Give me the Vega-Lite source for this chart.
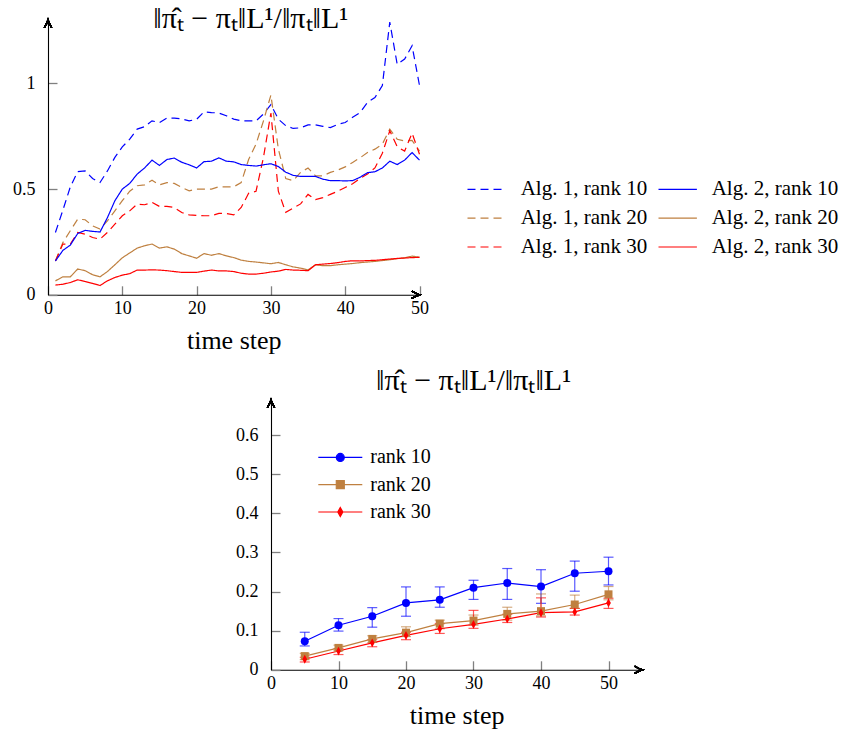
{
  "$schema": "https://vega.github.io/schema/vega-lite/v6.json",
  "background": "white",
  "padding": {"left": 12, "top": 4, "right": 0, "bottom": 0},
  "config": {
    "view": {"stroke": null},
    "font": "Liberation Serif",
    "axis": {
      "grid": false,
      "domainColor": "black",
      "domainWidth": 1.1,
      "tickColor": "#808080",
      "tickWidth": 1.3,
      "tickSize": -9,
      "labelFlush": false,
      "labelFont": "Liberation Serif",
      "labelFontSize": 18,
      "labelColor": "black",
      "titleFont": "Liberation Serif",
      "titleFontSize": 26,
      "titleFontWeight": "normal",
      "titleColor": "black"
    },
    "axisX": {"labelPadding": 14, "titlePadding": 10},
    "axisY": {"labelPadding": 22},
    "title": {"font": "Liberation Serif", "fontSize": 30, "fontWeight": "normal", "color": "black"}
  },
  "resolve": {
    "scale": {"color": "independent", "strokeDash": "independent", "shape": "independent", "fill": "independent", "stroke": "independent"},
    "legend": {"color": "independent", "strokeDash": "independent", "shape": "independent", "fill": "independent", "stroke": "independent"}
  },
  "spacing": 12,
  "vconcat": [
    {
      "width": 371.5,
      "height": 274.8,
      "title": {"text": "‖π̂ₜ − πₜ‖L¹/‖πₜ‖L¹", "dx": 17, "dy": 38, "offset": -3, "baseline": "alphabetic"},
      "data": {
        "values": [
          {"t": 1, "a1r10": 0.295, "a1r20": 0.16, "a1r30": 0.16, "a2r10": 0.16, "a2r20": 0.066, "a2r30": 0.046},
          {"t": 2, "a1r10": 0.4, "a1r20": 0.247, "a1r30": 0.24, "a2r10": 0.21, "a2r20": 0.085, "a2r30": 0.05},
          {"t": 3, "a1r10": 0.51, "a1r20": 0.303, "a1r30": 0.24, "a2r10": 0.235, "a2r20": 0.085, "a2r30": 0.058},
          {"t": 4, "a1r10": 0.583, "a1r20": 0.358, "a1r30": 0.295, "a2r10": 0.29, "a2r20": 0.122, "a2r30": 0.071},
          {"t": 5, "a1r10": 0.586, "a1r20": 0.355, "a1r30": 0.287, "a2r10": 0.305, "a2r20": 0.114, "a2r30": 0.063},
          {"t": 6, "a1r10": 0.55, "a1r20": 0.326, "a1r30": 0.271, "a2r10": 0.3, "a2r20": 0.095, "a2r30": 0.054},
          {"t": 7, "a1r10": 0.531, "a1r20": 0.311, "a1r30": 0.263, "a2r10": 0.297, "a2r20": 0.085, "a2r30": 0.044},
          {"t": 8, "a1r10": 0.586, "a1r20": 0.35, "a1r30": 0.295, "a2r10": 0.365, "a2r20": 0.11, "a2r30": 0.066},
          {"t": 9, "a1r10": 0.65, "a1r20": 0.397, "a1r30": 0.334, "a2r10": 0.445, "a2r20": 0.142, "a2r30": 0.082},
          {"t": 10, "a1r10": 0.7, "a1r20": 0.445, "a1r30": 0.374, "a2r10": 0.5, "a2r20": 0.175, "a2r30": 0.093},
          {"t": 11, "a1r10": 0.736, "a1r20": 0.49, "a1r30": 0.397, "a2r10": 0.527, "a2r20": 0.198, "a2r30": 0.1},
          {"t": 12, "a1r10": 0.784, "a1r20": 0.516, "a1r30": 0.429, "a2r10": 0.571, "a2r20": 0.221, "a2r30": 0.117},
          {"t": 13, "a1r10": 0.795, "a1r20": 0.52, "a1r30": 0.426, "a2r10": 0.6, "a2r20": 0.232, "a2r30": 0.117},
          {"t": 14, "a1r10": 0.823, "a1r20": 0.542, "a1r30": 0.437, "a2r10": 0.637, "a2r20": 0.24, "a2r30": 0.118},
          {"t": 15, "a1r10": 0.815, "a1r20": 0.52, "a1r30": 0.418, "a2r10": 0.612, "a2r20": 0.221, "a2r30": 0.117},
          {"t": 16, "a1r10": 0.836, "a1r20": 0.531, "a1r30": 0.418, "a2r10": 0.64, "a2r20": 0.227, "a2r30": 0.114},
          {"t": 17, "a1r10": 0.836, "a1r20": 0.527, "a1r30": 0.413, "a2r10": 0.647, "a2r20": 0.216, "a2r30": 0.11},
          {"t": 18, "a1r10": 0.832, "a1r20": 0.508, "a1r30": 0.389, "a2r10": 0.627, "a2r20": 0.195, "a2r30": 0.106},
          {"t": 19, "a1r10": 0.823, "a1r20": 0.492, "a1r30": 0.378, "a2r10": 0.615, "a2r20": 0.184, "a2r30": 0.106},
          {"t": 20, "a1r10": 0.83, "a1r20": 0.5, "a1r30": 0.376, "a2r10": 0.6, "a2r20": 0.173, "a2r30": 0.106},
          {"t": 21, "a1r10": 0.866, "a1r20": 0.5, "a1r30": 0.374, "a2r10": 0.63, "a2r20": 0.195, "a2r30": 0.112},
          {"t": 22, "a1r10": 0.862, "a1r20": 0.5, "a1r30": 0.374, "a2r10": 0.632, "a2r20": 0.187, "a2r30": 0.117},
          {"t": 23, "a1r10": 0.86, "a1r20": 0.511, "a1r30": 0.385, "a2r10": 0.648, "a2r20": 0.195, "a2r30": 0.113},
          {"t": 24, "a1r10": 0.847, "a1r20": 0.511, "a1r30": 0.385, "a2r10": 0.632, "a2r20": 0.184, "a2r30": 0.113},
          {"t": 25, "a1r10": 0.831, "a1r20": 0.511, "a1r30": 0.378, "a2r10": 0.629, "a2r20": 0.176, "a2r30": 0.11},
          {"t": 26, "a1r10": 0.823, "a1r20": 0.531, "a1r30": 0.413, "a2r10": 0.616, "a2r20": 0.164, "a2r30": 0.102},
          {"t": 27, "a1r10": 0.823, "a1r20": 0.64, "a1r30": 0.48, "a2r10": 0.612, "a2r20": 0.158, "a2r30": 0.098},
          {"t": 28, "a1r10": 0.823, "a1r20": 0.713, "a1r30": 0.49, "a2r10": 0.609, "a2r20": 0.155, "a2r30": 0.098},
          {"t": 29, "a1r10": 0.855, "a1r20": 0.823, "a1r30": 0.65, "a2r10": 0.615, "a2r20": 0.151, "a2r30": 0.102},
          {"t": 30, "a1r10": 0.9, "a1r20": 0.945, "a1r30": 0.86, "a2r10": 0.62, "a2r20": 0.147, "a2r30": 0.108},
          {"t": 31, "a1r10": 0.831, "a1r20": 0.69, "a1r30": 0.49, "a2r10": 0.607, "a2r20": 0.153, "a2r30": 0.112},
          {"t": 32, "a1r10": 0.8, "a1r20": 0.55, "a1r30": 0.39, "a2r10": 0.58, "a2r20": 0.142, "a2r30": 0.12},
          {"t": 33, "a1r10": 0.787, "a1r20": 0.54, "a1r30": 0.41, "a2r10": 0.565, "a2r20": 0.132, "a2r30": 0.117},
          {"t": 34, "a1r10": 0.79, "a1r20": 0.579, "a1r30": 0.43, "a2r10": 0.56, "a2r20": 0.126, "a2r30": 0.116},
          {"t": 35, "a1r10": 0.804, "a1r20": 0.6, "a1r30": 0.475, "a2r10": 0.56, "a2r20": 0.118, "a2r30": 0.114},
          {"t": 36, "a1r10": 0.804, "a1r20": 0.563, "a1r30": 0.45, "a2r10": 0.56, "a2r20": 0.142, "a2r30": 0.142},
          {"t": 37, "a1r10": 0.797, "a1r20": 0.563, "a1r30": 0.46, "a2r10": 0.547, "a2r20": 0.138, "a2r30": 0.145},
          {"t": 38, "a1r10": 0.791, "a1r20": 0.579, "a1r30": 0.475, "a2r10": 0.54, "a2r20": 0.138, "a2r30": 0.148},
          {"t": 39, "a1r10": 0.806, "a1r20": 0.59, "a1r30": 0.49, "a2r10": 0.54, "a2r20": 0.142, "a2r30": 0.152},
          {"t": 40, "a1r10": 0.815, "a1r20": 0.605, "a1r30": 0.508, "a2r10": 0.539, "a2r20": 0.145, "a2r30": 0.158},
          {"t": 41, "a1r10": 0.84, "a1r20": 0.626, "a1r30": 0.525, "a2r10": 0.54, "a2r20": 0.148, "a2r30": 0.161},
          {"t": 42, "a1r10": 0.862, "a1r20": 0.648, "a1r30": 0.55, "a2r10": 0.556, "a2r20": 0.152, "a2r30": 0.16},
          {"t": 43, "a1r10": 0.91, "a1r20": 0.673, "a1r30": 0.571, "a2r10": 0.578, "a2r20": 0.155, "a2r30": 0.162},
          {"t": 44, "a1r10": 0.933, "a1r20": 0.689, "a1r30": 0.6, "a2r10": 0.582, "a2r20": 0.158, "a2r30": 0.163},
          {"t": 45, "a1r10": 0.99, "a1r20": 0.713, "a1r30": 0.67, "a2r10": 0.6, "a2r20": 0.162, "a2r30": 0.166},
          {"t": 46, "a1r10": 1.29, "a1r20": 0.784, "a1r30": 0.776, "a2r10": 0.632, "a2r20": 0.166, "a2r30": 0.169},
          {"t": 47, "a1r10": 1.09, "a1r20": 0.736, "a1r30": 0.7, "a2r10": 0.616, "a2r20": 0.171, "a2r30": 0.172},
          {"t": 48, "a1r10": 1.115, "a1r20": 0.728, "a1r30": 0.68, "a2r10": 0.637, "a2r20": 0.175, "a2r30": 0.174},
          {"t": 49, "a1r10": 1.178, "a1r20": 0.73, "a1r30": 0.765, "a2r10": 0.673, "a2r20": 0.183, "a2r30": 0.176},
          {"t": 50, "a1r10": 0.99, "a1r20": 0.68, "a1r30": 0.665, "a2r10": 0.637, "a2r20": 0.178, "a2r30": 0.177}
        ]
      },
      "layer": [
        {
          "transform": [{"fold": ["a1r10", "a1r20", "a1r30", "a2r10", "a2r20", "a2r30"], "as": ["series", "v"]}],
          "mark": {"type": "line", "strokeWidth": 1.2},
          "encoding": {
            "x": {"field": "t", "type": "quantitative", "scale": {"domain": [0, 50], "nice": false}, "axis": {"values": [0, 10, 20, 30, 40, 50], "title": "time step"}},
            "y": {"field": "v", "type": "quantitative", "scale": {"domain": [0, 1.3], "nice": false}, "axis": {"values": [0, 0.5, 1], "format": "~g", "title": null}},
            "color": {
              "field": "series", "type": "nominal",
              "scale": {"domain": ["a1r10", "a1r20", "a1r30", "a2r10", "a2r20", "a2r30"], "range": ["#0000ff", "#bf8040", "#ff0000", "#0000ff", "#bf8040", "#ff0000"]},
              "legend": {"title": null, "orient": "none", "legendX": 425.7, "legendY": 156.4, "columns": 2, "padding": 0, "symbolType": "M-1.6,0H1.6", "symbolSize": 576, "symbolStrokeWidth": 1.2, "labelFont": "Liberation Serif", "labelFontSize": 21, "labelColor": "black", "labelOffset": 21, "labelLimit": 300, "rowPadding": 5.8, "columnPadding": 8, "labelExpr": "'Alg. ' + substring(datum.value, 1, 2) + ', rank ' + substring(datum.value, 3)"}
            },
            "strokeDash": {
              "field": "series", "type": "nominal",
              "scale": {"domain": ["a1r10", "a1r20", "a1r30", "a2r10", "a2r20", "a2r30"], "range": [[8, 5], [8, 5], [8, 5], [1, 0], [1, 0], [1, 0]]},
              "legend": {"title": null, "orient": "none", "legendX": 425.7, "legendY": 156.4, "columns": 2, "padding": 0, "symbolType": "M-1.6,0H1.6", "symbolSize": 576, "symbolStrokeWidth": 1.2, "labelFont": "Liberation Serif", "labelFontSize": 21, "labelColor": "black", "labelOffset": 21, "labelLimit": 300, "rowPadding": 5.8, "columnPadding": 8, "labelExpr": "'Alg. ' + substring(datum.value, 1, 2) + ', rank ' + substring(datum.value, 3)"}
            }
          }
        },
        {
          "mark": {"type": "point", "shape": "M-0.9,1.9Q-0.2,0.7,0,0Q0.2,0.7,0.9,1.9", "filled": false, "color": "black", "strokeWidth": 1.3, "size": 64, "opacity": 1},
          "encoding": {"x": {"datum": 0}, "y": {"datum": 1.3}}
        },
        {
          "mark": {"type": "point", "shape": "M-1.9,-0.9Q-0.7,-0.2,0,0Q-0.7,0.2,-1.9,0.9", "filled": false, "color": "black", "strokeWidth": 1.3, "size": 64, "opacity": 1},
          "encoding": {"x": {"datum": 50}, "y": {"datum": 0}}
        }
      ]
    },
    {
      "spacing": 0,
      "resolve": {
        "scale": {"color": "independent", "shape": "independent", "fill": "independent", "stroke": "independent"},
        "legend": {"color": "independent", "shape": "independent", "fill": "independent", "stroke": "independent"}
      },
      "hconcat": [
        {
          "width": 186.4,
          "height": 10,
          "data": {"values": []},
          "mark": {"type": "point", "opacity": 0}
        },
        {
          "width": 371.25,
          "height": 269.8,
          "title": {"text": "‖π̂ₜ − πₜ‖L¹/‖πₜ‖L¹", "dx": 17, "dy": 20, "offset": -3, "baseline": "alphabetic"},
          "data": {
            "values": [
              {"t": 5, "rank": "rank 10", "v": 0.073, "lo": 0.061, "hi": 0.096},
              {"t": 10, "rank": "rank 10", "v": 0.114, "lo": 0.099, "hi": 0.131},
              {"t": 15, "rank": "rank 10", "v": 0.137, "lo": 0.109, "hi": 0.159},
              {"t": 20, "rank": "rank 10", "v": 0.171, "lo": 0.137, "hi": 0.212},
              {"t": 25, "rank": "rank 10", "v": 0.179, "lo": 0.16, "hi": 0.212},
              {"t": 30, "rank": "rank 10", "v": 0.21, "lo": 0.18, "hi": 0.229},
              {"t": 35, "rank": "rank 10", "v": 0.222, "lo": 0.18, "hi": 0.259},
              {"t": 40, "rank": "rank 10", "v": 0.213, "lo": 0.17, "hi": 0.256},
              {"t": 45, "rank": "rank 10", "v": 0.247, "lo": 0.201, "hi": 0.278},
              {"t": 50, "rank": "rank 10", "v": 0.252, "lo": 0.217, "hi": 0.288},
              {"t": 5, "rank": "rank 20", "v": 0.035, "lo": 0.026, "hi": 0.042},
              {"t": 10, "rank": "rank 20", "v": 0.056, "lo": 0.049, "hi": 0.063},
              {"t": 15, "rank": "rank 20", "v": 0.079, "lo": 0.07, "hi": 0.087},
              {"t": 20, "rank": "rank 20", "v": 0.095, "lo": 0.085, "hi": 0.11},
              {"t": 25, "rank": "rank 20", "v": 0.118, "lo": 0.105, "hi": 0.127},
              {"t": 30, "rank": "rank 20", "v": 0.126, "lo": 0.114, "hi": 0.14},
              {"t": 35, "rank": "rank 20", "v": 0.143, "lo": 0.127, "hi": 0.16},
              {"t": 40, "rank": "rank 20", "v": 0.15, "lo": 0.138, "hi": 0.194},
              {"t": 45, "rank": "rank 20", "v": 0.167, "lo": 0.157, "hi": 0.191},
              {"t": 50, "rank": "rank 20", "v": 0.193, "lo": 0.179, "hi": 0.213},
              {"t": 5, "rank": "rank 30", "v": 0.027, "lo": 0.02, "hi": 0.032},
              {"t": 10, "rank": "rank 30", "v": 0.048, "lo": 0.039, "hi": 0.054},
              {"t": 15, "rank": "rank 30", "v": 0.069, "lo": 0.059, "hi": 0.077},
              {"t": 20, "rank": "rank 30", "v": 0.088, "lo": 0.077, "hi": 0.096},
              {"t": 25, "rank": "rank 30", "v": 0.105, "lo": 0.093, "hi": 0.118},
              {"t": 30, "rank": "rank 30", "v": 0.116, "lo": 0.106, "hi": 0.152},
              {"t": 35, "rank": "rank 30", "v": 0.13, "lo": 0.121, "hi": 0.142},
              {"t": 40, "rank": "rank 30", "v": 0.146, "lo": 0.135, "hi": 0.184},
              {"t": 45, "rank": "rank 30", "v": 0.148, "lo": 0.14, "hi": 0.157},
              {"t": 50, "rank": "rank 30", "v": 0.171, "lo": 0.157, "hi": 0.183}
            ]
          },
          "encoding": {
            "x": {"field": "t", "type": "quantitative", "scale": {"domain": [0, 55], "nice": false}, "axis": {"values": [0, 10, 20, 30, 40, 50], "title": "time step"}}
          },
          "resolve": {
            "scale": {"shape": "independent", "fill": "independent", "stroke": "independent"},
            "legend": {"shape": "independent", "fill": "independent", "stroke": "independent"}
          },
          "layer": [
            {
              "mark": {"type": "errorbar", "ticks": {"size": 10, "thickness": 1.2, "opacity": 0.65}, "rule": {"strokeWidth": 1.2, "opacity": 0.65}},
              "encoding": {
                "y": {"field": "lo", "type": "quantitative", "scale": {"domain": [0, 0.69], "nice": false}, "axis": {"values": [0, 0.1, 0.2, 0.3, 0.4, 0.5, 0.6], "format": "~g", "title": null}},
                "y2": {"field": "hi"},
                "color": {"field": "rank", "type": "nominal", "scale": {"domain": ["rank 10", "rank 20", "rank 30"], "range": ["#0000ff", "#bf8040", "#ff0000"]}, "legend": null}
              }
            },
            {
              "mark": {"type": "line", "strokeWidth": 1.2},
              "encoding": {
                "y": {"field": "v", "type": "quantitative"},
                "color": {"field": "rank", "type": "nominal", "scale": {"domain": ["rank 10", "rank 20", "rank 30"], "range": ["#0000ff", "#bf8040", "#ff0000"]}, "legend": null}
              }
            },
            {
              "mark": {"type": "point", "filled": true, "size": 64, "opacity": 1},
              "encoding": {
                "y": {"field": "v", "type": "quantitative"},
                "color": {"field": "rank", "type": "nominal", "scale": {"domain": ["rank 10", "rank 20", "rank 30"], "range": ["#0000ff", "#bf8040", "#ff0000"]}, "legend": null},
                "shape": {"field": "rank", "type": "nominal", "scale": {"domain": ["rank 10", "rank 20", "rank 30"], "range": ["circle", "square", "M0,-1.1L0.6,0L0,1.1L-0.6,0Z"]}, "legend": null}
              }
            },
            {
              "mark": {"type": "point", "opacity": 0, "strokeWidth": 1.2},
              "encoding": {
                "y": {"field": "v", "type": "quantitative"},
                "fill": {
                  "field": "rank", "type": "nominal",
                  "scale": {"domain": ["rank 10", "rank 20", "rank 30"], "range": ["#0000ff", "#bf8040", "#ff0000"]},
                  "legend": {"title": null, "orient": "none", "legendX": 56.3, "legendY": 44.4, "padding": 0, "symbolSize": 576, "symbolOpacity": 1, "symbolStrokeWidth": 1.2, "labelFont": "Liberation Serif", "labelFontSize": 20, "labelColor": "black", "labelOffset": 17, "rowPadding": 4.3}
                },
                "stroke": {
                  "field": "rank", "type": "nominal",
                  "scale": {"domain": ["rank 10", "rank 20", "rank 30"], "range": ["#0000ff", "#bf8040", "#ff0000"]},
                  "legend": {"title": null, "orient": "none", "legendX": 56.3, "legendY": 44.4, "padding": 0, "symbolSize": 576, "symbolOpacity": 1, "symbolStrokeWidth": 1.2, "labelFont": "Liberation Serif", "labelFontSize": 20, "labelColor": "black", "labelOffset": 17, "rowPadding": 4.3}
                },
                "shape": {
                  "field": "rank", "type": "nominal",
                  "scale": {"domain": ["rank 10", "rank 20", "rank 30"], "range": ["M-1.833,0H1.833M0.333,0A0.333,0.333,0,1,1,-0.333,0A0.333,0.333,0,1,1,0.333,0Z", "M-1.833,0H1.833M-0.333,-0.333H0.333V0.333H-0.333Z", "M-1.833,0H1.833M0,-0.375L0.21,0L0,0.375L-0.21,0Z"]},
                  "legend": {"title": null, "orient": "none", "legendX": 56.3, "legendY": 44.4, "padding": 0, "symbolSize": 576, "symbolOpacity": 1, "symbolStrokeWidth": 1.2, "labelFont": "Liberation Serif", "labelFontSize": 20, "labelColor": "black", "labelOffset": 17, "rowPadding": 4.3}
                }
              }
            },
            {
              "mark": {"type": "point", "shape": "M-0.9,1.9Q-0.2,0.7,0,0Q0.2,0.7,0.9,1.9", "filled": false, "color": "black", "strokeWidth": 1.3, "size": 64, "opacity": 1},
              "encoding": {"x": {"datum": 0}, "y": {"datum": 0.69}}
            },
            {
              "mark": {"type": "point", "shape": "M-1.9,-0.9Q-0.7,-0.2,0,0Q-0.7,0.2,-1.9,0.9", "filled": false, "color": "black", "strokeWidth": 1.3, "size": 64, "opacity": 1},
              "encoding": {"x": {"datum": 55}, "y": {"datum": 0}}
            }
          ]
        }
      ]
    }
  ]
}
